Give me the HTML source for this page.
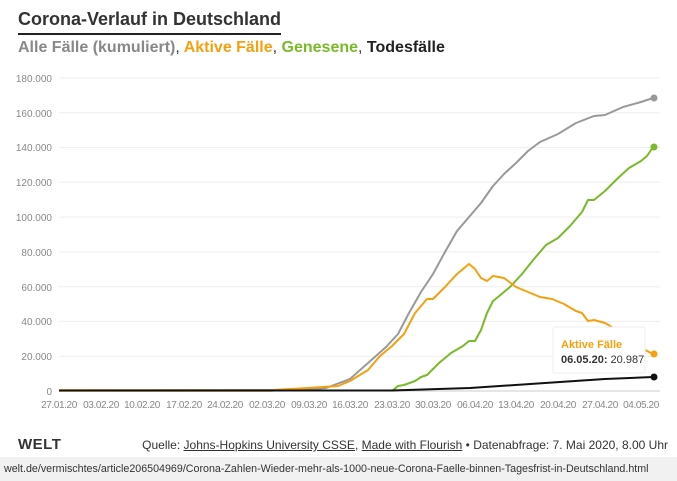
<!DOCTYPE html>
<html><head><meta charset="utf-8"><style>
body{margin:0;width:677px;height:481px;background:#fff;font-family:"Liberation Sans",sans-serif;overflow:hidden;position:relative}
.t{position:absolute;left:18px;top:9px;font-size:18px;font-weight:bold;color:#333;border-bottom:2px solid #222;padding-bottom:3px}
.s{position:absolute;left:18px;top:39px;font-size:16px;font-weight:bold;color:#888}
.src{position:absolute;right:9px;top:438px;font-size:12px;color:#333}
.src u{text-decoration:underline}
.url{position:absolute;left:0;top:457px;width:677px;height:24px;background:#f1f1f1;font-size:10.7px;color:#333;line-height:24px;padding-left:4px}
.logo{position:absolute;left:18px;top:436px;font-size:15px;font-weight:bold;color:#333;letter-spacing:0.5px}
</style></head><body>
<div class="t">Corona-Verlauf in Deutschland</div>
<div class="s">Alle Fälle (kumuliert)<span style="color:#333;font-weight:normal">,</span> <span style="color:#f5a00f">Aktive Fälle</span><span style="color:#333;font-weight:normal">,</span> <span style="color:#7ab929">Genesene</span><span style="color:#333;font-weight:normal">,</span> <span style="color:#222">Todesfälle</span></div>
<svg style="position:absolute;left:0;top:0" width="677" height="481">
<g stroke="#eee" stroke-width="1">
<line x1="59" x2="660" y1="391" y2="391" stroke="#ccc"/>
<line x1="59" x2="660" y1="356.2" y2="356.2"/><line x1="59" x2="660" y1="321.4" y2="321.4"/>
<line x1="59" x2="660" y1="286.7" y2="286.7"/><line x1="59" x2="660" y1="251.9" y2="251.9"/>
<line x1="59" x2="660" y1="217.1" y2="217.1"/><line x1="59" x2="660" y1="182.3" y2="182.3"/>
<line x1="59" x2="660" y1="147.6" y2="147.6"/><line x1="59" x2="660" y1="112.8" y2="112.8"/>
<line x1="59" x2="660" y1="78" y2="78"/>
</g>
<g font-size="10" fill="#888" text-anchor="end">
<text x="52" y="395">0</text><text x="52" y="360">20.000</text><text x="52" y="325">40.000</text>
<text x="52" y="291">60.000</text><text x="52" y="256">80.000</text><text x="52" y="221">100.000</text>
<text x="52" y="186">120.000</text><text x="52" y="151">140.000</text><text x="52" y="117">160.000</text>
<text x="52" y="82">180.000</text>
</g>
<g font-size="10" fill="#888" text-anchor="middle" letter-spacing="-0.4">
<text x="59" y="408">27.01.20</text><text x="101" y="408">03.02.20</text><text x="142" y="408">10.02.20</text>
<text x="184" y="408">17.02.20</text><text x="225" y="408">24.02.20</text><text x="267" y="408">02.03.20</text>
<text x="309" y="408">09.03.20</text><text x="350" y="408">16.03.20</text><text x="392" y="408">23.03.20</text>
<text x="433" y="408">30.03.20</text><text x="475" y="408">06.04.20</text><text x="516" y="408">13.04.20</text>
<text x="558" y="408">20.04.20</text><text x="600" y="408">27.04.20</text><text x="641" y="408">04.05.20</text>
</g>
<g fill="none" stroke-width="2" stroke-linejoin="round">
<line x1="59" y1="390.5" x2="392" y2="390.5" stroke="#7ab929" stroke-dasharray="3 3"/>
<line x1="59" y1="390.5" x2="273" y2="390.5" stroke="#f5a00f" stroke-width="2.5"/>
<polyline stroke="#999" points="59,390.5 297,390 326,388 350,379 368,363 386,347 398,334 409,313 421,292 433,274 445,252 457,231 469,217 481,203 493,186 504,174 516,163 528,151 540,142 558,134 576,123 594,116 605,115 623,107 641,102 653,98"/>
<polyline stroke="#7ab929" points="392,391 398,386 404,385 415,381 421,377 427,375 439,363 451,353 463,346 469,341 475,341 481,330 487,313 493,301 498,297 510,287 522,274 534,259 546,245 558,238 570,226 582,212 588,200 594,200 605,191 617,179 629,168 641,161 647,156 653,147"/>
<polyline stroke="#f5a00f" points="273,390 308,388 338,386 350,381 368,370 380,356 392,346 404,334 415,313 427,299 433,299 445,287 457,274 463,269 469,264 475,269 481,278 487,281 493,276 504,278 516,287 528,292 540,297 552,299 564,304 576,311 582,313 588,321 594,320 605,323 617,330 629,341 641,348 653,354"/>
<polyline stroke="#111" points="59,390.5 392,390.5 470,388 560,382 605,379 653,377"/>
</g>
<circle cx="654" cy="98" r="3.5" fill="#999"/><circle cx="654" cy="147" r="3.5" fill="#7ab929"/>
<circle cx="654" cy="354" r="3.5" fill="#f5a00f"/><circle cx="654" cy="377" r="3.5" fill="#111"/>
<rect x="553" y="327" width="92" height="46" fill="#fff" stroke="#eee" rx="2"/>
<text x="561" y="348" font-size="11" font-weight="bold" fill="#f5a00f">Aktive Fälle</text>
<text x="561" y="363" font-size="11" fill="#333"><tspan font-weight="bold">06.05.20:</tspan> 20.987</text>
</svg>
<div class="logo">WELT</div>
<div class="src">Quelle: <u>Johns-Hopkins University CSSE</u>, <u>Made with Flourish</u> • Datenabfrage: 7. Mai 2020, 8.00 Uhr</div>
<div class="url">welt.de/vermischtes/article206504969/Corona-Zahlen-Wieder-mehr-als-1000-neue-Corona-Faelle-binnen-Tagesfrist-in-Deutschland.html</div>
</body></html>
